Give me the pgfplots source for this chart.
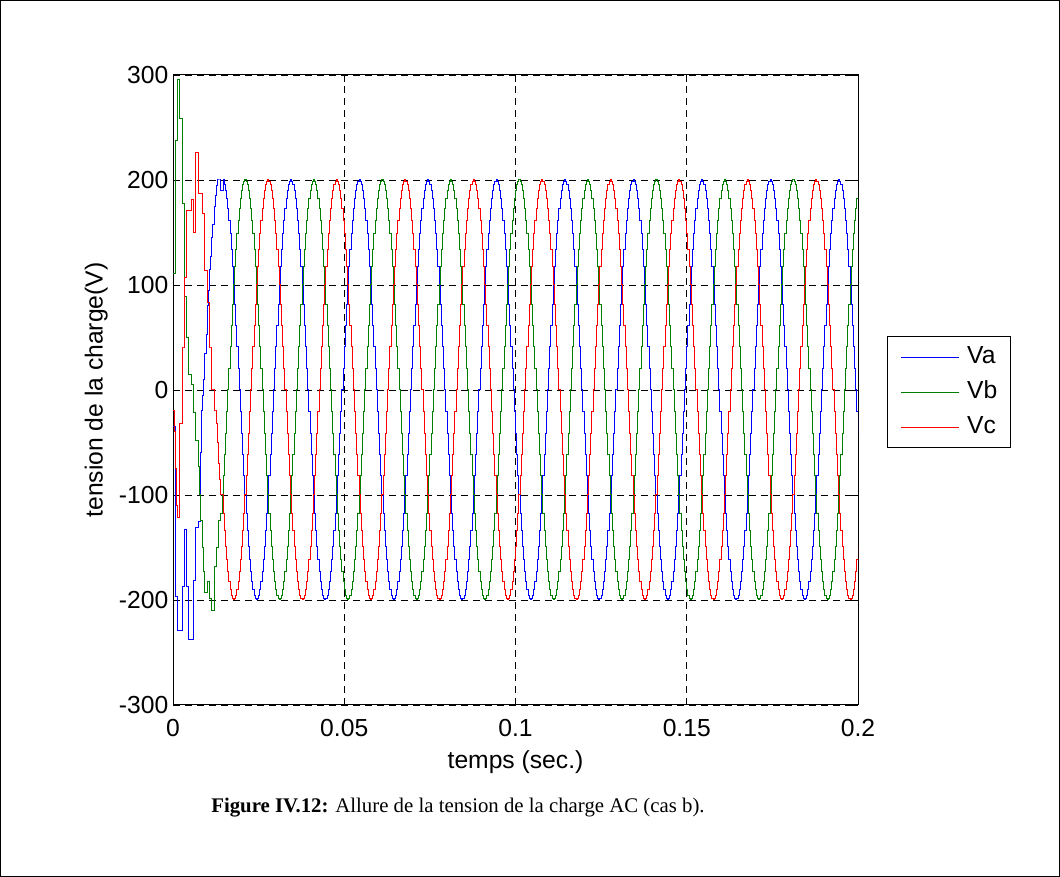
\documentclass[border=0pt]{standalone}
\usepackage{fontspec}
\setmainfont{Liberation Sans}
\newfontfamily\capfont{Liberation Serif}
\usepackage{pgfplots}
\usepackage{pgfplotstable}
\pgfplotsset{compat=1.18}
\definecolor{mblue}{rgb}{0,0,1}
\definecolor{mgreen}{rgb}{0,0.5,0}
\definecolor{mred}{rgb}{1,0,0}
\newcommand\fs{\fontsize{18.5}{22}\selectfont}
\pgfplotstableread{
t va vb vc
0 -35 111 -20
0.000333 -35 111 -40
0.000667 -197 238 -75
0.001 -197 238 -110
0.001333 -229 296 -121
0.001667 -229 296 -121
0.002 -229 259 -32
0.002333 -229 259 -32
0.002667 -187 178 40
0.003 -187 178 40
0.003333 -133 89 107
0.003667 -133 89 107
0.004 -187 50 171
0.004333 -187 50 171
0.004667 -238 15 171
0.005 -238 15 171
0.005333 -238 5 181
0.005667 -238 5 181
0.006 -181 -21 150
0.006333 -181 -21 150
0.006667 -131 -48 226
0.007 -131 -48 226
0.007333 -125 -73 187
0.007667 -125 -100 187
0.008 -60 -124 187
0.008333 -20 -124 187
0.008667 -5 -150 168
0.009 10 -173 168
0.009333 35 -193 114
0.009667 53 -193 114
0.01 80 -182 83
0.010333 95 -182 83
0.010667 115 -199 40
0.011 127 -199 40
0.011333 145 -210 0
0.011667 158 -210 0
0.012 175 -168 -20
0.012333 185 -168 -20
0.012667 195 -150 -32
0.013 200 -150 -50
0.013333 200 -124 -70
0.013667 200 -124 -85
0.014 190 -117.6 -100
0.014333 190 -100 -100
0.014667 200 -81.3 -117.6
0.015 195.6 -61.8 -133.8
0.015333 190.2 -41.6 -148.6
0.015667 182.7 -20.9 -161.8
0.016 173.2 0 -173.2
0.016333 161.8 20.9 -182.7
0.016667 148.6 41.6 -190.2
0.017 133.8 61.8 -195.6
0.017333 117.6 81.3 -198.9
0.017667 100 100 -200
0.018 81.3 117.6 -198.9
0.018333 61.8 133.8 -195.6
0.018667 41.6 148.6 -190.2
0.019 20.9 161.8 -182.7
0.019333 0 173.2 -173.2
0.019667 -20.9 182.7 -161.8
0.02 -41.6 190.2 -148.6
0.020333 -61.8 195.6 -133.8
0.020667 -81.3 198.9 -117.6
0.021 -100 200 -100
0.021333 -117.6 198.9 -81.3
0.021667 -133.8 195.6 -61.8
0.022 -148.6 190.2 -41.6
0.022333 -161.8 182.7 -20.9
0.022667 -173.2 173.2 0
0.023 -182.7 161.8 20.9
0.023333 -190.2 148.6 41.6
0.023667 -195.6 133.8 61.8
0.024 -198.9 117.6 81.3
0.024333 -200 100 100
0.024667 -198.9 81.3 117.6
0.025 -195.6 61.8 133.8
0.025333 -190.2 41.6 148.6
0.025667 -182.7 20.9 161.8
0.026 -173.2 0 173.2
0.026333 -161.8 -20.9 182.7
0.026667 -148.6 -41.6 190.2
0.027 -133.8 -61.8 195.6
0.027333 -117.6 -81.3 198.9
0.027667 -100 -100 200
0.028 -81.3 -117.6 198.9
0.028333 -61.8 -133.8 195.6
0.028667 -41.6 -148.6 190.2
0.029 -20.9 -161.8 182.7
0.029333 0 -173.2 173.2
0.029667 20.9 -182.7 161.8
0.03 41.6 -190.2 148.6
0.030333 61.8 -195.6 133.8
0.030667 81.3 -198.9 117.6
0.031 100 -200 100
0.031333 117.6 -198.9 81.3
0.031667 133.8 -195.6 61.8
0.032 148.6 -190.2 41.6
0.032333 161.8 -182.7 20.9
0.032667 173.2 -173.2 0
0.033 182.7 -161.8 -20.9
0.033333 190.2 -148.6 -41.6
0.033667 195.6 -133.8 -61.8
0.034 198.9 -117.6 -81.3
0.034333 200 -100 -100
0.034667 198.9 -81.3 -117.6
0.035 195.6 -61.8 -133.8
0.035333 190.2 -41.6 -148.6
0.035667 182.7 -20.9 -161.8
0.036 173.2 0 -173.2
0.036333 161.8 20.9 -182.7
0.036667 148.6 41.6 -190.2
0.037 133.8 61.8 -195.6
0.037333 117.6 81.3 -198.9
0.037667 100 100 -200
0.038 81.3 117.6 -198.9
0.038333 61.8 133.8 -195.6
0.038667 41.6 148.6 -190.2
0.039 20.9 161.8 -182.7
0.039333 0 173.2 -173.2
0.039667 -20.9 182.7 -161.8
0.04 -41.6 190.2 -148.6
0.040333 -61.8 195.6 -133.8
0.040667 -81.3 198.9 -117.6
0.041 -100 200 -100
0.041333 -117.6 198.9 -81.3
0.041667 -133.8 195.6 -61.8
0.042 -148.6 190.2 -41.6
0.042333 -161.8 182.7 -20.9
0.042667 -173.2 173.2 0
0.043 -182.7 161.8 20.9
0.043333 -190.2 148.6 41.6
0.043667 -195.6 133.8 61.8
0.044 -198.9 117.6 81.3
0.044333 -200 100 100
0.044667 -198.9 81.3 117.6
0.045 -195.6 61.8 133.8
0.045333 -190.2 41.6 148.6
0.045667 -182.7 20.9 161.8
0.046 -173.2 0 173.2
0.046333 -161.8 -20.9 182.7
0.046667 -148.6 -41.6 190.2
0.047 -133.8 -61.8 195.6
0.047333 -117.6 -81.3 198.9
0.047667 -100 -100 200
0.048 -81.3 -117.6 198.9
0.048333 -61.8 -133.8 195.6
0.048667 -41.6 -148.6 190.2
0.049 -20.9 -161.8 182.7
0.049333 0 -173.2 173.2
0.049667 20.9 -182.7 161.8
0.05 41.6 -190.2 148.6
0.050333 61.8 -195.6 133.8
0.050667 81.3 -198.9 117.6
0.051 100 -200 100
0.051333 117.6 -198.9 81.3
0.051667 133.8 -195.6 61.8
0.052 148.6 -190.2 41.6
0.052333 161.8 -182.7 20.9
0.052667 173.2 -173.2 0
0.053 182.7 -161.8 -20.9
0.053333 190.2 -148.6 -41.6
0.053667 195.6 -133.8 -61.8
0.054 198.9 -117.6 -81.3
0.054333 200 -100 -100
0.054667 198.9 -81.3 -117.6
0.055 195.6 -61.8 -133.8
0.055333 190.2 -41.6 -148.6
0.055667 182.7 -20.9 -161.8
0.056 173.2 0 -173.2
0.056333 161.8 20.9 -182.7
0.056667 148.6 41.6 -190.2
0.057 133.8 61.8 -195.6
0.057333 117.6 81.3 -198.9
0.057667 100 100 -200
0.058 81.3 117.6 -198.9
0.058333 61.8 133.8 -195.6
0.058667 41.6 148.6 -190.2
0.059 20.9 161.8 -182.7
0.059333 0 173.2 -173.2
0.059667 -20.9 182.7 -161.8
0.06 -41.6 190.2 -148.6
0.060333 -61.8 195.6 -133.8
0.060667 -81.3 198.9 -117.6
0.061 -100 200 -100
0.061333 -117.6 198.9 -81.3
0.061667 -133.8 195.6 -61.8
0.062 -148.6 190.2 -41.6
0.062333 -161.8 182.7 -20.9
0.062667 -173.2 173.2 0
0.063 -182.7 161.8 20.9
0.063333 -190.2 148.6 41.6
0.063667 -195.6 133.8 61.8
0.064 -198.9 117.6 81.3
0.064333 -200 100 100
0.064667 -198.9 81.3 117.6
0.065 -195.6 61.8 133.8
0.065333 -190.2 41.6 148.6
0.065667 -182.7 20.9 161.8
0.066 -173.2 0 173.2
0.066333 -161.8 -20.9 182.7
0.066667 -148.6 -41.6 190.2
0.067 -133.8 -61.8 195.6
0.067333 -117.6 -81.3 198.9
0.067667 -100 -100 200
0.068 -81.3 -117.6 198.9
0.068333 -61.8 -133.8 195.6
0.068667 -41.6 -148.6 190.2
0.069 -20.9 -161.8 182.7
0.069333 0 -173.2 173.2
0.069667 20.9 -182.7 161.8
0.07 41.6 -190.2 148.6
0.070333 61.8 -195.6 133.8
0.070667 81.3 -198.9 117.6
0.071 100 -200 100
0.071333 117.6 -198.9 81.3
0.071667 133.8 -195.6 61.8
0.072 148.6 -190.2 41.6
0.072333 161.8 -182.7 20.9
0.072667 173.2 -173.2 0
0.073 182.7 -161.8 -20.9
0.073333 190.2 -148.6 -41.6
0.073667 195.6 -133.8 -61.8
0.074 198.9 -117.6 -81.3
0.074333 200 -100 -100
0.074667 198.9 -81.3 -117.6
0.075 195.6 -61.8 -133.8
0.075333 190.2 -41.6 -148.6
0.075667 182.7 -20.9 -161.8
0.076 173.2 0 -173.2
0.076333 161.8 20.9 -182.7
0.076667 148.6 41.6 -190.2
0.077 133.8 61.8 -195.6
0.077333 117.6 81.3 -198.9
0.077667 100 100 -200
0.078 81.3 117.6 -198.9
0.078333 61.8 133.8 -195.6
0.078667 41.6 148.6 -190.2
0.079 20.9 161.8 -182.7
0.079333 0 173.2 -173.2
0.079667 -20.9 182.7 -161.8
0.08 -41.6 190.2 -148.6
0.080333 -61.8 195.6 -133.8
0.080667 -81.3 198.9 -117.6
0.081 -100 200 -100
0.081333 -117.6 198.9 -81.3
0.081667 -133.8 195.6 -61.8
0.082 -148.6 190.2 -41.6
0.082333 -161.8 182.7 -20.9
0.082667 -173.2 173.2 0
0.083 -182.7 161.8 20.9
0.083333 -190.2 148.6 41.6
0.083667 -195.6 133.8 61.8
0.084 -198.9 117.6 81.3
0.084333 -200 100 100
0.084667 -198.9 81.3 117.6
0.085 -195.6 61.8 133.8
0.085333 -190.2 41.6 148.6
0.085667 -182.7 20.9 161.8
0.086 -173.2 0 173.2
0.086333 -161.8 -20.9 182.7
0.086667 -148.6 -41.6 190.2
0.087 -133.8 -61.8 195.6
0.087333 -117.6 -81.3 198.9
0.087667 -100 -100 200
0.088 -81.3 -117.6 198.9
0.088333 -61.8 -133.8 195.6
0.088667 -41.6 -148.6 190.2
0.089 -20.9 -161.8 182.7
0.089333 0 -173.2 173.2
0.089667 20.9 -182.7 161.8
0.09 41.6 -190.2 148.6
0.090333 61.8 -195.6 133.8
0.090667 81.3 -198.9 117.6
0.091 100 -200 100
0.091333 117.6 -198.9 81.3
0.091667 133.8 -195.6 61.8
0.092 148.6 -190.2 41.6
0.092333 161.8 -182.7 20.9
0.092667 173.2 -173.2 0
0.093 182.7 -161.8 -20.9
0.093333 190.2 -148.6 -41.6
0.093667 195.6 -133.8 -61.8
0.094 198.9 -117.6 -81.3
0.094333 200 -100 -100
0.094667 198.9 -81.3 -117.6
0.095 195.6 -61.8 -133.8
0.095333 190.2 -41.6 -148.6
0.095667 182.7 -20.9 -161.8
0.096 173.2 0 -173.2
0.096333 161.8 20.9 -182.7
0.096667 148.6 41.6 -190.2
0.097 133.8 61.8 -195.6
0.097333 117.6 81.3 -198.9
0.097667 100 100 -200
0.098 81.3 117.6 -198.9
0.098333 61.8 133.8 -195.6
0.098667 41.6 148.6 -190.2
0.099 20.9 161.8 -182.7
0.099333 0 173.2 -173.2
0.099667 -20.9 182.7 -161.8
0.1 -41.6 190.2 -148.6
0.100333 -61.8 195.6 -133.8
0.100667 -81.3 198.9 -117.6
0.101 -100 200 -100
0.101333 -117.6 198.9 -81.3
0.101667 -133.8 195.6 -61.8
0.102 -148.6 190.2 -41.6
0.102333 -161.8 182.7 -20.9
0.102667 -173.2 173.2 0
0.103 -182.7 161.8 20.9
0.103333 -190.2 148.6 41.6
0.103667 -195.6 133.8 61.8
0.104 -198.9 117.6 81.3
0.104333 -200 100 100
0.104667 -198.9 81.3 117.6
0.105 -195.6 61.8 133.8
0.105333 -190.2 41.6 148.6
0.105667 -182.7 20.9 161.8
0.106 -173.2 0 173.2
0.106333 -161.8 -20.9 182.7
0.106667 -148.6 -41.6 190.2
0.107 -133.8 -61.8 195.6
0.107333 -117.6 -81.3 198.9
0.107667 -100 -100 200
0.108 -81.3 -117.6 198.9
0.108333 -61.8 -133.8 195.6
0.108667 -41.6 -148.6 190.2
0.109 -20.9 -161.8 182.7
0.109333 0 -173.2 173.2
0.109667 20.9 -182.7 161.8
0.11 41.6 -190.2 148.6
0.110333 61.8 -195.6 133.8
0.110667 81.3 -198.9 117.6
0.111 100 -200 100
0.111333 117.6 -198.9 81.3
0.111667 133.8 -195.6 61.8
0.112 148.6 -190.2 41.6
0.112333 161.8 -182.7 20.9
0.112667 173.2 -173.2 0
0.113 182.7 -161.8 -20.9
0.113333 190.2 -148.6 -41.6
0.113667 195.6 -133.8 -61.8
0.114 198.9 -117.6 -81.3
0.114333 200 -100 -100
0.114667 198.9 -81.3 -117.6
0.115 195.6 -61.8 -133.8
0.115333 190.2 -41.6 -148.6
0.115667 182.7 -20.9 -161.8
0.116 173.2 0 -173.2
0.116333 161.8 20.9 -182.7
0.116667 148.6 41.6 -190.2
0.117 133.8 61.8 -195.6
0.117333 117.6 81.3 -198.9
0.117667 100 100 -200
0.118 81.3 117.6 -198.9
0.118333 61.8 133.8 -195.6
0.118667 41.6 148.6 -190.2
0.119 20.9 161.8 -182.7
0.119333 0 173.2 -173.2
0.119667 -20.9 182.7 -161.8
0.12 -41.6 190.2 -148.6
0.120333 -61.8 195.6 -133.8
0.120667 -81.3 198.9 -117.6
0.121 -100 200 -100
0.121333 -117.6 198.9 -81.3
0.121667 -133.8 195.6 -61.8
0.122 -148.6 190.2 -41.6
0.122333 -161.8 182.7 -20.9
0.122667 -173.2 173.2 0
0.123 -182.7 161.8 20.9
0.123333 -190.2 148.6 41.6
0.123667 -195.6 133.8 61.8
0.124 -198.9 117.6 81.3
0.124333 -200 100 100
0.124667 -198.9 81.3 117.6
0.125 -195.6 61.8 133.8
0.125333 -190.2 41.6 148.6
0.125667 -182.7 20.9 161.8
0.126 -173.2 0 173.2
0.126333 -161.8 -20.9 182.7
0.126667 -148.6 -41.6 190.2
0.127 -133.8 -61.8 195.6
0.127333 -117.6 -81.3 198.9
0.127667 -100 -100 200
0.128 -81.3 -117.6 198.9
0.128333 -61.8 -133.8 195.6
0.128667 -41.6 -148.6 190.2
0.129 -20.9 -161.8 182.7
0.129333 0 -173.2 173.2
0.129667 20.9 -182.7 161.8
0.13 41.6 -190.2 148.6
0.130333 61.8 -195.6 133.8
0.130667 81.3 -198.9 117.6
0.131 100 -200 100
0.131333 117.6 -198.9 81.3
0.131667 133.8 -195.6 61.8
0.132 148.6 -190.2 41.6
0.132333 161.8 -182.7 20.9
0.132667 173.2 -173.2 0
0.133 182.7 -161.8 -20.9
0.133333 190.2 -148.6 -41.6
0.133667 195.6 -133.8 -61.8
0.134 198.9 -117.6 -81.3
0.134333 200 -100 -100
0.134667 198.9 -81.3 -117.6
0.135 195.6 -61.8 -133.8
0.135333 190.2 -41.6 -148.6
0.135667 182.7 -20.9 -161.8
0.136 173.2 0 -173.2
0.136333 161.8 20.9 -182.7
0.136667 148.6 41.6 -190.2
0.137 133.8 61.8 -195.6
0.137333 117.6 81.3 -198.9
0.137667 100 100 -200
0.138 81.3 117.6 -198.9
0.138333 61.8 133.8 -195.6
0.138667 41.6 148.6 -190.2
0.139 20.9 161.8 -182.7
0.139333 0 173.2 -173.2
0.139667 -20.9 182.7 -161.8
0.14 -41.6 190.2 -148.6
0.140333 -61.8 195.6 -133.8
0.140667 -81.3 198.9 -117.6
0.141 -100 200 -100
0.141333 -117.6 198.9 -81.3
0.141667 -133.8 195.6 -61.8
0.142 -148.6 190.2 -41.6
0.142333 -161.8 182.7 -20.9
0.142667 -173.2 173.2 0
0.143 -182.7 161.8 20.9
0.143333 -190.2 148.6 41.6
0.143667 -195.6 133.8 61.8
0.144 -198.9 117.6 81.3
0.144333 -200 100 100
0.144667 -198.9 81.3 117.6
0.145 -195.6 61.8 133.8
0.145333 -190.2 41.6 148.6
0.145667 -182.7 20.9 161.8
0.146 -173.2 0 173.2
0.146333 -161.8 -20.9 182.7
0.146667 -148.6 -41.6 190.2
0.147 -133.8 -61.8 195.6
0.147333 -117.6 -81.3 198.9
0.147667 -100 -100 200
0.148 -81.3 -117.6 198.9
0.148333 -61.8 -133.8 195.6
0.148667 -41.6 -148.6 190.2
0.149 -20.9 -161.8 182.7
0.149333 0 -173.2 173.2
0.149667 20.9 -182.7 161.8
0.15 41.6 -190.2 148.6
0.150333 61.8 -195.6 133.8
0.150667 81.3 -198.9 117.6
0.151 100 -200 100
0.151333 117.6 -198.9 81.3
0.151667 133.8 -195.6 61.8
0.152 148.6 -190.2 41.6
0.152333 161.8 -182.7 20.9
0.152667 173.2 -173.2 0
0.153 182.7 -161.8 -20.9
0.153333 190.2 -148.6 -41.6
0.153667 195.6 -133.8 -61.8
0.154 198.9 -117.6 -81.3
0.154333 200 -100 -100
0.154667 198.9 -81.3 -117.6
0.155 195.6 -61.8 -133.8
0.155333 190.2 -41.6 -148.6
0.155667 182.7 -20.9 -161.8
0.156 173.2 0 -173.2
0.156333 161.8 20.9 -182.7
0.156667 148.6 41.6 -190.2
0.157 133.8 61.8 -195.6
0.157333 117.6 81.3 -198.9
0.157667 100 100 -200
0.158 81.3 117.6 -198.9
0.158333 61.8 133.8 -195.6
0.158667 41.6 148.6 -190.2
0.159 20.9 161.8 -182.7
0.159333 0 173.2 -173.2
0.159667 -20.9 182.7 -161.8
0.16 -41.6 190.2 -148.6
0.160333 -61.8 195.6 -133.8
0.160667 -81.3 198.9 -117.6
0.161 -100 200 -100
0.161333 -117.6 198.9 -81.3
0.161667 -133.8 195.6 -61.8
0.162 -148.6 190.2 -41.6
0.162333 -161.8 182.7 -20.9
0.162667 -173.2 173.2 0
0.163 -182.7 161.8 20.9
0.163333 -190.2 148.6 41.6
0.163667 -195.6 133.8 61.8
0.164 -198.9 117.6 81.3
0.164333 -200 100 100
0.164667 -198.9 81.3 117.6
0.165 -195.6 61.8 133.8
0.165333 -190.2 41.6 148.6
0.165667 -182.7 20.9 161.8
0.166 -173.2 0 173.2
0.166333 -161.8 -20.9 182.7
0.166667 -148.6 -41.6 190.2
0.167 -133.8 -61.8 195.6
0.167333 -117.6 -81.3 198.9
0.167667 -100 -100 200
0.168 -81.3 -117.6 198.9
0.168333 -61.8 -133.8 195.6
0.168667 -41.6 -148.6 190.2
0.169 -20.9 -161.8 182.7
0.169333 0 -173.2 173.2
0.169667 20.9 -182.7 161.8
0.17 41.6 -190.2 148.6
0.170333 61.8 -195.6 133.8
0.170667 81.3 -198.9 117.6
0.171 100 -200 100
0.171333 117.6 -198.9 81.3
0.171667 133.8 -195.6 61.8
0.172 148.6 -190.2 41.6
0.172333 161.8 -182.7 20.9
0.172667 173.2 -173.2 0
0.173 182.7 -161.8 -20.9
0.173333 190.2 -148.6 -41.6
0.173667 195.6 -133.8 -61.8
0.174 198.9 -117.6 -81.3
0.174333 200 -100 -100
0.174667 198.9 -81.3 -117.6
0.175 195.6 -61.8 -133.8
0.175333 190.2 -41.6 -148.6
0.175667 182.7 -20.9 -161.8
0.176 173.2 0 -173.2
0.176333 161.8 20.9 -182.7
0.176667 148.6 41.6 -190.2
0.177 133.8 61.8 -195.6
0.177333 117.6 81.3 -198.9
0.177667 100 100 -200
0.178 81.3 117.6 -198.9
0.178333 61.8 133.8 -195.6
0.178667 41.6 148.6 -190.2
0.179 20.9 161.8 -182.7
0.179333 0 173.2 -173.2
0.179667 -20.9 182.7 -161.8
0.18 -41.6 190.2 -148.6
0.180333 -61.8 195.6 -133.8
0.180667 -81.3 198.9 -117.6
0.181 -100 200 -100
0.181333 -117.6 198.9 -81.3
0.181667 -133.8 195.6 -61.8
0.182 -148.6 190.2 -41.6
0.182333 -161.8 182.7 -20.9
0.182667 -173.2 173.2 0
0.183 -182.7 161.8 20.9
0.183333 -190.2 148.6 41.6
0.183667 -195.6 133.8 61.8
0.184 -198.9 117.6 81.3
0.184333 -200 100 100
0.184667 -198.9 81.3 117.6
0.185 -195.6 61.8 133.8
0.185333 -190.2 41.6 148.6
0.185667 -182.7 20.9 161.8
0.186 -173.2 0 173.2
0.186333 -161.8 -20.9 182.7
0.186667 -148.6 -41.6 190.2
0.187 -133.8 -61.8 195.6
0.187333 -117.6 -81.3 198.9
0.187667 -100 -100 200
0.188 -81.3 -117.6 198.9
0.188333 -61.8 -133.8 195.6
0.188667 -41.6 -148.6 190.2
0.189 -20.9 -161.8 182.7
0.189333 0 -173.2 173.2
0.189667 20.9 -182.7 161.8
0.19 41.6 -190.2 148.6
0.190333 61.8 -195.6 133.8
0.190667 81.3 -198.9 117.6
0.191 100 -200 100
0.191333 117.6 -198.9 81.3
0.191667 133.8 -195.6 61.8
0.192 148.6 -190.2 41.6
0.192333 161.8 -182.7 20.9
0.192667 173.2 -173.2 0
0.193 182.7 -161.8 -20.9
0.193333 190.2 -148.6 -41.6
0.193667 195.6 -133.8 -61.8
0.194 198.9 -117.6 -81.3
0.194333 200 -100 -100
0.194667 198.9 -81.3 -117.6
0.195 195.6 -61.8 -133.8
0.195333 190.2 -41.6 -148.6
0.195667 182.7 -20.9 -161.8
0.196 173.2 0 -173.2
0.196333 161.8 20.9 -182.7
0.196667 148.6 41.6 -190.2
0.197 133.8 61.8 -195.6
0.197333 117.6 81.3 -198.9
0.197667 100 100 -200
0.198 81.3 117.6 -198.9
0.198333 61.8 133.8 -195.6
0.198667 41.6 148.6 -190.2
0.199 20.9 161.8 -182.7
0.199333 0 173.2 -173.2
0.199667 -20.9 182.7 -161.8
0.2 -41.6 190.2 -148.6
}\data
\begin{document}
\begin{tikzpicture}[x=1pt,y=1pt]
\draw[line width=1pt] (0.5,0.5) rectangle (794.5,657.25);
\begin{axis}[
  at={(129.75pt,129pt)}, anchor=south west,
  scale only axis, width=513.75pt, height=472.5pt,
  xmin=0, xmax=0.2, ymin=-300, ymax=300,
  xtick={0,0.05,0.1,0.15,0.2}, xticklabels={0,0.05,0.1,0.15,0.2},
  ytick={-300,-200,-100,0,100,200,300},
  yticklabels={-300,-200,-100,0,100,200,300},
  grid=major,
  major grid style={black, line width=0.5pt, dash pattern=on 5.5pt off 3.5pt},
  tick align=inside, major tick length=5pt,
  tick style={black, line width=0.6pt},
  axis line style={line width=0.75pt},
  tick label style={font=\fs},
  xticklabel style={yshift=-7pt},
  label style={font=\fs},
  xlabel={temps (sec.)},
  ylabel={tension de la charge(V)},
  xlabel style={at={(axis description cs:0.5,-0.0905)}, anchor=center},
  ylabel style={at={(axis description cs:-0.112,0.5)}, anchor=center},
  legend cell align=left,
  legend style={at={(1.0423,0.5857)}, anchor=north west, draw=black,
    line width=0.8pt, fill=white, font=\fs, inner xsep=10pt, inner ysep=7pt,
    row sep=9.25pt, column sep=6pt,
    nodes={inner sep=0pt, text height=13pt, text depth=4pt}},
  legend image code/.code={\draw[#1, line width=0.75pt] (0pt,0pt) -- (43pt,0pt);},
  every axis plot/.append style={line width=0.75pt, const plot, mark=none},
]
\addplot[mblue] table[x=t,y=va]{\data};
\addplot[mgreen] table[x=t,y=vb]{\data};
\addplot[mred] table[x=t,y=vc]{\data};
\legend{Va,Vb,Vc}
\end{axis}
\node[font=\capfont\fontsize{15.6}{18}\selectfont] at (343.5,51.75) {\textbf{Figure IV.12:} Allure de la tension de la charge AC (cas b).};
\end{tikzpicture}
\end{document}
